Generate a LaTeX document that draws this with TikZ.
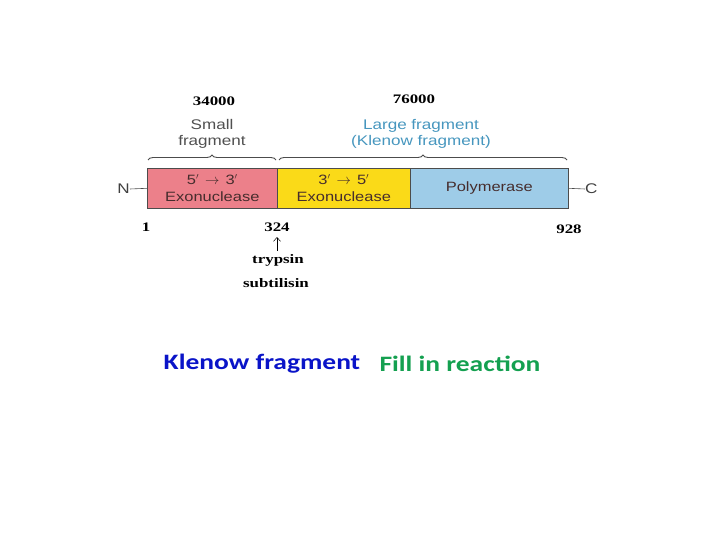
\documentclass[tikz,border=0pt]{standalone}
\usepackage{fontspec}
\setmainfont{Liberation Sans}[FakeStretch=1.22]
\newfontfamily\calib{Carlito}[FakeStretch=1.25]
\newfontfamily\numf{Liberation Serif}[FakeStretch=1.3]
\usetikzlibrary{decorations.pathreplacing,arrows.meta}
\definecolor{pinkc}{RGB}{236,128,138}
\definecolor{yelc}{RGB}{250,218,24}
\definecolor{bluec}{RGB}{158,204,232}
\definecolor{boxtxt}{RGB}{70,45,45}
\definecolor{lgtxt}{RGB}{70,150,190}
\definecolor{smtxt}{RGB}{80,80,80}
\definecolor{klen}{RGB}{10,20,200}
\definecolor{fillc}{RGB}{20,160,80}
\tikzset{
  seg/.style={draw=black!70, line width=0.6pt, minimum height=40pt, inner sep=0pt, anchor=north west, align=center, text=boxtxt, font=\fontsize{13.5}{17}\selectfont},
  num/.style={font=\fontsize{13}{14}\selectfont\numf\bfseries, inner sep=0pt},
  lab/.style={font=\fontsize{14}{16}\selectfont, align=center, inner sep=0pt},
  br/.style={decorate, decoration={brace, amplitude=5pt}, line width=0.9pt, draw=black!70},
  end/.style={font=\fontsize{14}{14}\selectfont, text=black!75, inner sep=0pt},
  big/.style={font=\fontsize{22}{24}\selectfont\calib\bfseries, inner sep=0pt}
}
\begin{document}
\begin{tikzpicture}[x=1pt,y=-1pt]
\useasboundingbox (0,0) rectangle (720,540);
\node[seg, fill=pinkc, minimum width=130pt] (exo53) at (147,168) {\raisebox{-1.5pt}{5$'$\;\,$\rightarrow$\;\,3$'$}\\\raisebox{-1.5pt}{Exonuclease}};
\node[seg, fill=yelc, minimum width=133pt] (exo35) at (277,168) {\raisebox{-1.5pt}{3$'$\;\,$\rightarrow$\;\,5$'$}\\\raisebox{-1.5pt}{Exonuclease}};
\node[seg, fill=bluec, minimum width=158pt] (pol) at (410,168) {Polymerase};
\node[end, anchor=east] (N) at (130,189) {N};
\node[end, anchor=west] (C) at (585,189) {C};
\draw[black!70, line width=0.6pt] (N.east) -- (exo53.west);
\draw[black!70, line width=0.6pt] (pol.east) -- (C.west);
\draw[br] (148,160) -- (276,160);
\draw[br] (279,160) -- (567,160);
\node[lab, text=smtxt] (small) at (212,134) {Small\\fragment};
\node[lab, text=lgtxt] (large) at (421,134) {Large fragment\\(Klenow fragment)};
\node[num] (m1) at (214,101) {34000};
\node[num] (m2) at (414,99) {76000};
\node[num] (p1) at (146,227) {1};
\node[num] (p324) at (277,227) {324};
\node[num] (p928) at (569,229) {928};
\node[num] (tryp) at (278,260) {trypsin};
\node[num] (subt) at (276,283) {subtilisin};
\draw[-{Straight Barb[length=4pt,width=7pt]}, line width=0.5pt] (tryp.north -| p324) ++(0,-3) coordinate (a0) (a0) -- (p324.south |- 0,237);
\node[big, text=klen] (kf) at (262,364) {Klenow fragment};
\node[big, text=fillc] (fr) at (460,364) {Fill in reaction};
\end{tikzpicture}
\end{document}
